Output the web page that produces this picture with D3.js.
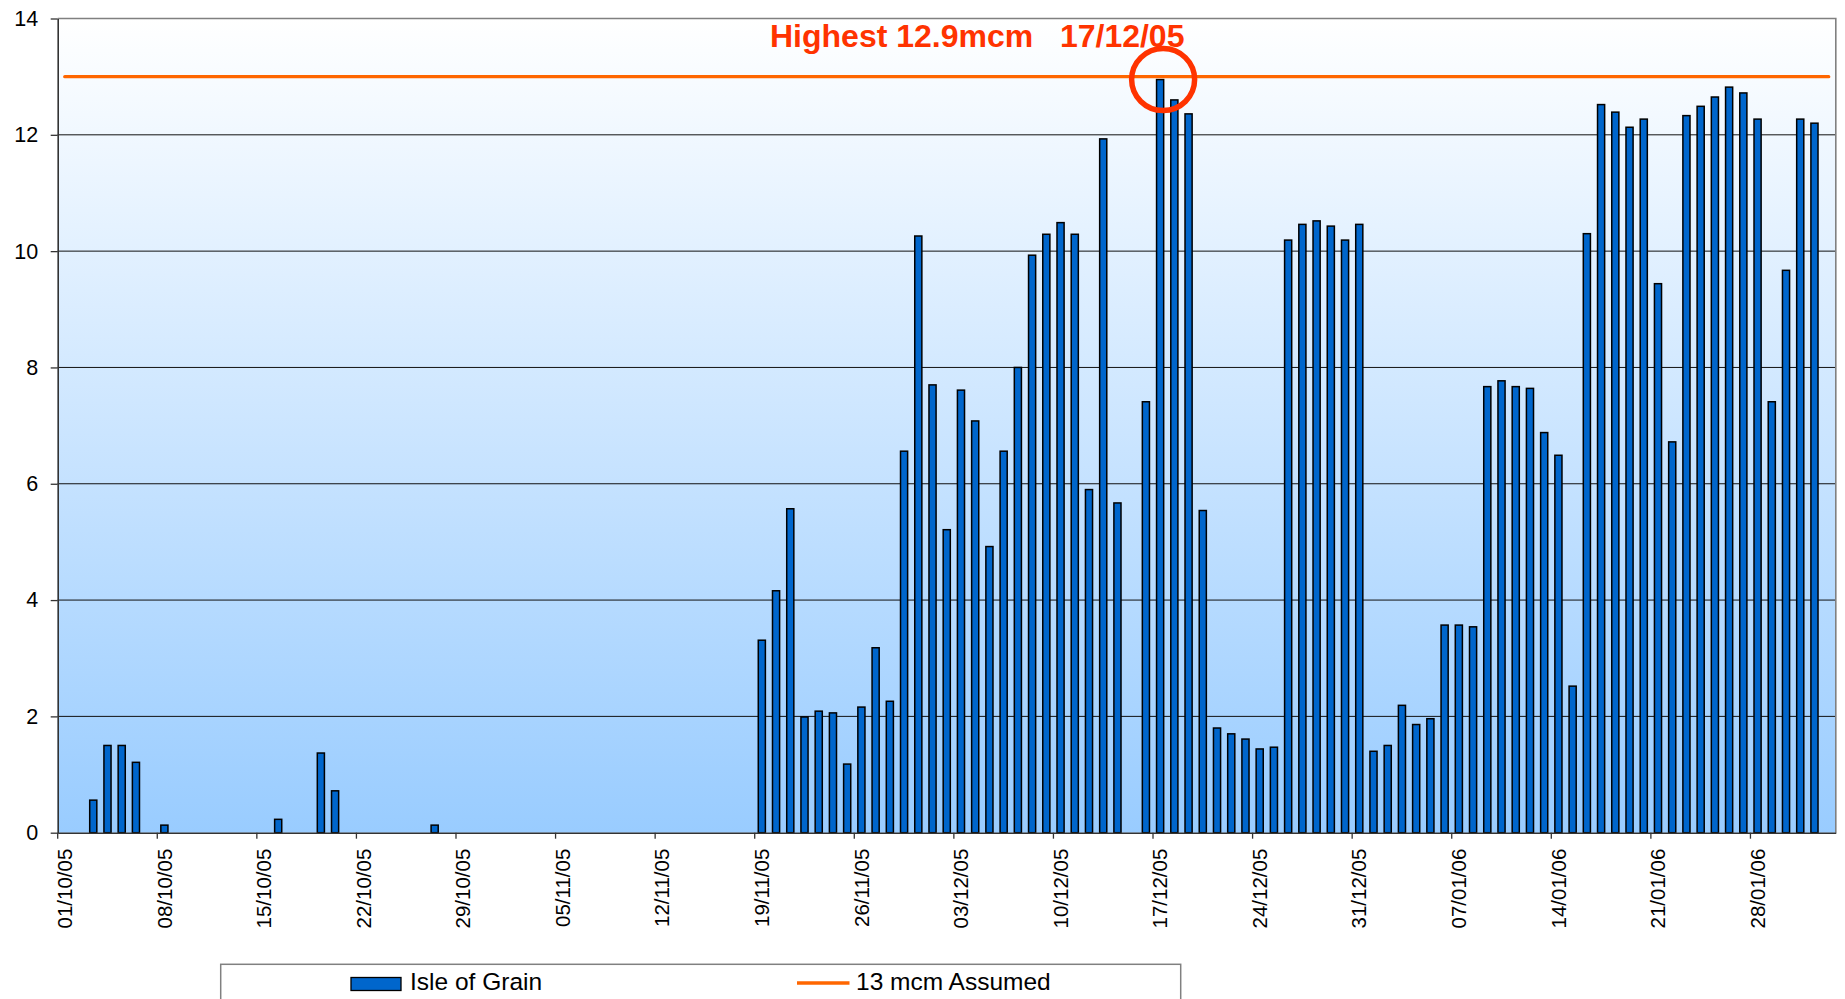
<!DOCTYPE html>
<html><head><meta charset="utf-8">
<script src="https://cdn.jsdelivr.net/npm/d3@7"></script>
<style>
html,body{margin:0;padding:0;background:#fff;overflow:hidden}
svg{display:block;font-family:"Liberation Sans",Arial,Helvetica,sans-serif}
</style></head><body>
<svg id="chart" width="1845" height="999"></svg>
<script>
// ---- data (mcm per day, Isle of Grain) ----
const octValues = [0, 0, 0.56, 1.50, 1.50, 1.21, 0, 0.13, 0, 0,
                   0, 0, 0, 0, 0, 0.23, 0, 0, 1.37, 0.72,
                   0, 0, 0, 0, 0, 0, 0.13, 0, 0, 0, 0];
const novValues = [0, 0, 0, 0, 0, 0, 0, 0, 0, 0,
                   0, 0, 0, 0, 0, 0, 0, 0, 3.31, 4.16,
                   5.57, 1.99, 2.09, 2.06, 1.18, 2.16, 3.18, 2.26, 6.56, 10.26];
const decValues = [7.70, 5.21, 7.61, 7.08, 4.92, 6.56, 8.00, 9.93, 10.29, 10.49,
                   10.29, 5.90, 11.93, 5.67, 0, 7.41, 12.95, 12.60, 12.36, 5.54,
                   1.80, 1.70, 1.61, 1.44, 1.47, 10.19, 10.46, 10.52, 10.43, 10.19, 10.46];
const janValues = [1.40, 1.50, 2.19, 1.86, 1.96, 3.57, 3.57, 3.54, 7.67, 7.77,
                   7.67, 7.64, 6.88, 6.49, 2.52, 10.30, 12.52, 12.39, 12.13, 12.27,
                   9.44, 6.72, 12.33, 12.49, 12.65, 12.82, 12.72, 12.27, 7.41, 9.67, 12.27];
const febValues = [12.20, 0];
const tickLabels = ["01/10/05","08/10/05","15/10/05","22/10/05","29/10/05","05/11/05",
                    "12/11/05","19/11/05","26/11/05","03/12/05","10/12/05","17/12/05",
                    "24/12/05","31/12/05","07/01/06","14/01/06","21/01/06","28/01/06"];
const yTicks = [0, 2, 4, 6, 8, 10, 12, 14];
const assumedLevel = 13;
const peakDate = "17/12/05";
const peakValue = 12.95;
const peakLabel = "Highest 12.9mcm   17/12/05";
const seriesNames = ["Isle of Grain", "13 mcm Assumed"];

// ---- layout ----
const m = {left: 57.7, right: 1835.8, top: 18.5, bottom: 832.7};
const svg = d3.select("#chart");
const fmt = d3.utcFormat("%d/%m/%y");
const categories = d3.utcDay.range(new Date(Date.UTC(2005, 9, 1)), new Date(Date.UTC(2006, 1, 3))).map(fmt);
const values = [].concat(octValues, novValues, decValues, janValues, febValues);
const data = categories.map((c, i) => ({c, v: values[i]}));

const x = d3.scaleBand().domain(categories).range([m.left, m.right]).paddingInner(0.5).paddingOuter(0.25);
const y = d3.scaleLinear().domain([0, 14]).range([m.bottom, m.top]);
const step = x.step();
const bw = x.bandwidth();

// background gradient
const defs = svg.append("defs");
const grad = defs.append("linearGradient").attr("id", "bg").attr("x1", 0).attr("y1", 0).attr("x2", 0).attr("y2", 1);
grad.append("stop").attr("offset", "0%").attr("stop-color", "#ffffff");
grad.append("stop").attr("offset", "100%").attr("stop-color", "#99ccff");
svg.append("rect").attr("x", m.left).attr("y", m.top).attr("width", m.right - m.left).attr("height", m.bottom - m.top)
  .attr("fill", "url(#bg)");

// gridlines
svg.append("g").selectAll("line").data(yTicks.filter(t => t > 0 && t < 14)).join("line")
  .attr("x1", m.left).attr("x2", m.right).attr("y1", d => y(d)).attr("y2", d => y(d))
  .attr("stroke", "#111").attr("stroke-width", 1);
svg.append("path").attr("d", `M${m.left},${y(14)}H${m.right}V${m.bottom}`)
  .attr("fill", "none").attr("stroke", "#808080").attr("stroke-width", 1.6);

// bars
svg.append("g").selectAll("rect").data(data.filter(d => d.v > 0)).join("rect")
  .attr("x", d => x(d.c)).attr("width", bw)
  .attr("y", d => y(d.v)).attr("height", d => y(0) - y(d.v))
  .attr("fill", "#0066cc").attr("stroke", "#000").attr("stroke-width", 1.5);

// assumed line
const line = d3.line().x(d => x(d.c) + bw / 2).y(() => y(assumedLevel));
svg.append("path").datum(data).attr("d", line).attr("fill", "none")
  .attr("stroke", "#ff6600").attr("stroke-width", 3.4).attr("stroke-linecap", "round");

// axes
const yAxis = svg.append("g").attr("transform", `translate(${m.left},0)`)
  .call(d3.axisLeft(y).tickValues(yTicks).tickSize(7).tickSizeOuter(0).tickPadding(12.5));
yAxis.selectAll("text").attr("font-size", 21.5).attr("fill", "#000").attr("font-family", null);
yAxis.selectAll("line").attr("stroke", "#333").attr("stroke-width", 1.3);
yAxis.select(".domain").attr("stroke", "#333").attr("stroke-width", 1.6);

const xAxis = svg.append("g").attr("transform", `translate(0,${m.bottom})`)
  .call(d3.axisBottom(x).tickValues(tickLabels).tickSize(6).tickSizeOuter(0));
xAxis.selectAll(".tick line").attr("x1", -step / 2).attr("x2", -step / 2).attr("stroke", "#333").attr("stroke-width", 1.3);
xAxis.selectAll(".tick text").attr("font-size", 20.5).attr("fill", "#000").attr("font-family", null)
  .attr("transform", "rotate(-90)").attr("text-anchor", "end")
  .attr("x", -16).attr("y", 0).attr("dy", "0.35em");
xAxis.select(".domain").attr("stroke", "#333").attr("stroke-width", 1.6);

// annotation
svg.append("text").attr("x", 770).attr("y", 46.5).attr("xml:space", "preserve")
  .style("white-space", "pre").attr("font-size", 32).attr("font-weight", "bold")
  .attr("fill", "#ff3300").text(peakLabel);
svg.append("ellipse").attr("cx", x(peakDate) + bw / 2 + 3).attr("cy", y(peakValue))
  .attr("rx", 31.5).attr("ry", 31).attr("fill", "none").attr("stroke", "#ff3300").attr("stroke-width", 5.5);

// legend
const lg = svg.append("g");
lg.append("rect").attr("x", 220.7).attr("y", 964.3).attr("width", 960).attr("height", 60)
  .attr("fill", "#fff").attr("stroke", "#808080").attr("stroke-width", 1.5);
lg.append("rect").attr("x", 351).attr("y", 977.5).attr("width", 50).attr("height", 13)
  .attr("fill", "#0066cc").attr("stroke", "#000").attr("stroke-width", 1.3);
lg.append("text").attr("x", 410).attr("y", 990).attr("font-size", 24.5).attr("fill", "#000").text(seriesNames[0]);
lg.append("line").attr("x1", 797).attr("x2", 849.5).attr("y1", 983).attr("y2", 983)
  .attr("stroke", "#ff6600").attr("stroke-width", 3.6);
lg.append("text").attr("x", 856).attr("y", 990).attr("font-size", 24.5).attr("fill", "#000").text(seriesNames[1]);
</script>
</body></html>
